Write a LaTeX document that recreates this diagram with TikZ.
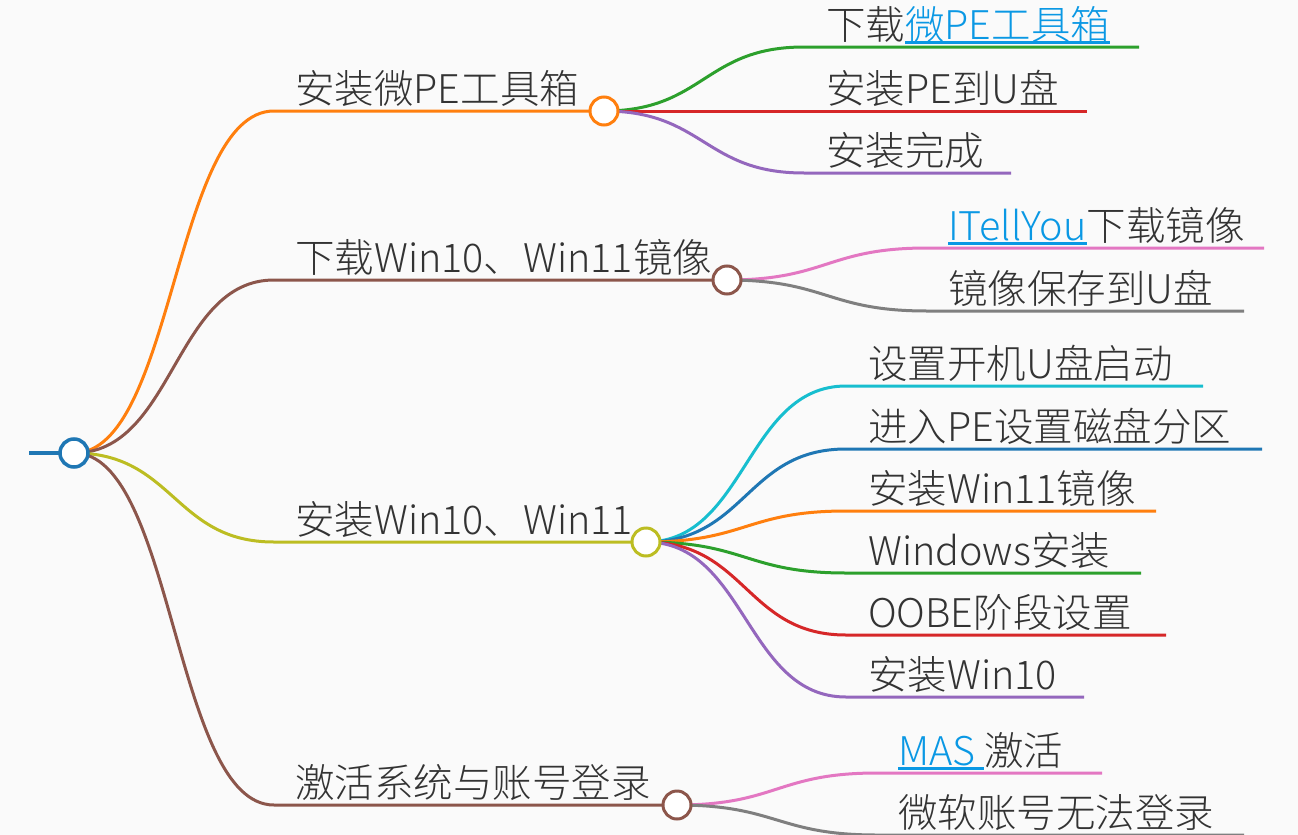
\documentclass[tikz,border=0pt]{standalone}
\usepackage{fontspec}
\IfFontExistsTF{Noto Sans CJK SC Light}{\setmainfont{Noto Sans CJK SC Light}}{%
	\IfFontExistsTF{Noto Sans CJK SC DemiLight}{\setmainfont{Noto Sans CJK SC DemiLight}}{\setmainfont{Noto Sans CJK SC}}}
\usetikzlibrary{backgrounds}

\definecolor{bg}{HTML}{FAFAFA}
\definecolor{txt}{HTML}{333333}
\definecolor{linkblue}{HTML}{0A98E4}
\definecolor{mmblue}{HTML}{1F77B4}
\definecolor{mmorange}{HTML}{FF7F0E}
\definecolor{mmgreen}{HTML}{2CA02C}
\definecolor{mmred}{HTML}{D62728}
\definecolor{mmpurple}{HTML}{9467BD}
\definecolor{mmbrown}{HTML}{8C564B}
\definecolor{mmpink}{HTML}{E377C2}
\definecolor{mmgray}{HTML}{7F7F7F}
\definecolor{mmolive}{HTML}{BCBD22}
\definecolor{mmcyan}{HTML}{17BECF}

\newcommand\mmfont{\fontsize{39.5}{47}\selectfont}
\newcommand\weblink[1]{\sbox0{\color{linkblue}#1}\rlap{\color{linkblue}\rule[-4.5pt]{\wd0}{3pt}}\usebox0}

\begin{document}
\begin{tikzpicture}[x=1pt, y=-1pt,
	hub/.style={circle, draw=#1, fill=white, line width=3pt, minimum size=28pt, inner sep=0pt},
	link/.style={draw=#1, line width=3pt, out=0, in=180, distance=100pt},
	lbl/.style={anchor=base west, inner sep=0pt, text=txt, font=\mmfont}]
	\useasboundingbox (0,0) rectangle (1298,835);
	\begin{scope}[on background layer]
		\fill[bg] (0,0) rectangle (1298,835);
	\end{scope}
	% root and main topics
	\node[hub=mmblue, line width=3.5pt] (root) at (74,453) {};
	\coordinate (stub) at (29,453);
	\node[hub=mmorange] (h1) at (604,111) {};
	\node[hub=mmbrown] (h2) at (727,280) {};
	\node[hub=mmolive] (h3) at (646,542) {};
	\node[hub=mmbrown] (h4) at (677,805) {};
	\foreach \n/\y/\c/\t in {1/111/mmorange/安装微PE工具箱, 2/280/mmbrown/下载Win10、Win11镜像, 3/542/mmolive/安装Win10、Win11, 4/805/mmbrown/激活系统与账号登录} {
		\coordinate (s\n) at (274,\y);
		\node[lbl] (t\n) at (295,\y-8) {\t};
		\begin{pgfonlayer}{background}
			\draw[link=\c] (root.center) to (s\n) -- (h\n.center);
		\end{pgfonlayer}
	}
	\begin{scope}[on background layer]
		\draw[mmblue, line width=4.5pt] (stub) -- (root.center);
	\end{scope}
	% sub topics: hub / start x / text x / items
	\foreach \y/\xe/\c/\t [count=\i] in {47/1139/mmgreen/{下载\weblink{微PE工具箱}}, 111/1087/mmred/安装PE到U盘, 173/1011/mmpurple/安装完成} {
		\coordinate (a1-\i) at (804,\y);
		\coordinate (e1-\i) at (\xe,\y);
		\node[lbl] (u1-\i) at (826,\y-8) {\t};
		\begin{pgfonlayer}{background}
			\draw[link=\c] (h1.center) to (a1-\i) -- (e1-\i);
		\end{pgfonlayer}
	}
	\foreach \y/\xe/\c/\t [count=\i] in {248/1264/mmpink/{\weblink{ITellYou}下载镜像}, 311/1244/mmgray/镜像保存到U盘} {
		\coordinate (a2-\i) at (927,\y);
		\coordinate (e2-\i) at (\xe,\y);
		\node[lbl] (u2-\i) at (948,\y-8) {\t};
		\begin{pgfonlayer}{background}
			\draw[link=\c] (h2.center) to (a2-\i) -- (e2-\i);
		\end{pgfonlayer}
	}
	\foreach \y/\xe/\c/\t [count=\i] in {386/1203/mmcyan/设置开机U盘启动, 449/1262/mmblue/进入PE设置磁盘分区, 511/1156/mmorange/安装Win11镜像, 573/1141/mmgreen/Windows安装, 635/1166/mmred/OOBE阶段设置, 697/1084/mmpurple/安装Win10} {
		\coordinate (a3-\i) at (846,\y);
		\coordinate (e3-\i) at (\xe,\y);
		\node[lbl] (u3-\i) at (868,\y-8) {\t};
		\begin{pgfonlayer}{background}
			\draw[link=\c] (h3.center) to (a3-\i) -- (e3-\i);
		\end{pgfonlayer}
	}
	\foreach \y/\xe/\c/\t [count=\i] in {773/1102/mmpink/{\weblink{MAS\ }激活}, 835/1244/mmgray/微软账号无法登录} {
		\coordinate (a4-\i) at (877,\y);
		\coordinate (e4-\i) at (\xe,\y);
		\node[lbl] (u4-\i) at (898,\y-8) {\t};
		\begin{pgfonlayer}{background}
			\draw[link=\c] (h4.center) to (a4-\i) -- (e4-\i);
		\end{pgfonlayer}
	}
\end{tikzpicture}
\end{document}
